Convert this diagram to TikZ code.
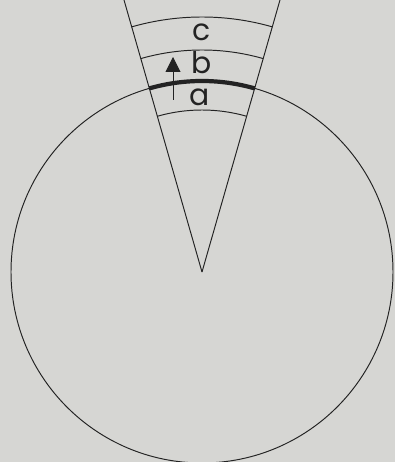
\documentclass[tikz,border=0pt]{standalone}
\usepackage{fontspec}
\setmainfont{Poppins}
\usetikzlibrary{arrows.meta}
\definecolor{paper}{RGB}{214,214,211}
\definecolor{ink}{RGB}{35,35,35}
\begin{document}
\begin{tikzpicture}[x=0.02cm, y=0.02cm, >={Triangle[length=0.3cm, width=0.3cm]}, thin/.style = {draw=ink, line width=0.55pt}, crust/.style = {draw=ink, line width=2.4pt}, letter/.style = {text=ink, font=\fontsize{17}{17}\selectfont, inner sep=0pt}]
            \fill[paper] (-202,-190) rectangle (193,272);
            \useasboundingbox (-202,-190) rectangle (193,272);
            \coordinate (apex) at (0,0);
            
            \draw[thin] (apex) circle (191);
            \draw[thin] (apex) -- (106:283);
            \draw[thin] (apex) -- (74:283);
            \draw[thin] (74:162) arc[start angle=74, end angle=106, radius=162];
            \draw[thin] (74:222) arc[start angle=74, end angle=106, radius=222];
            \draw[thin] (74:255) arc[start angle=74, end angle=106, radius=255];
            \draw[crust] (74:191) arc[start angle=74, end angle=106, radius=191];
            
            \node[letter] (a) at (-2,175) {a};
            \node[letter] (b) at (0,209) {b};
            \node[letter] (c) at (0,240) {c};
            \coordinate (base) at (-29,172);
            \coordinate (tip) at (-29,215);
            \draw[thin, ->, fill=ink] (base) -- (tip);
\end{tikzpicture}
\end{document}
